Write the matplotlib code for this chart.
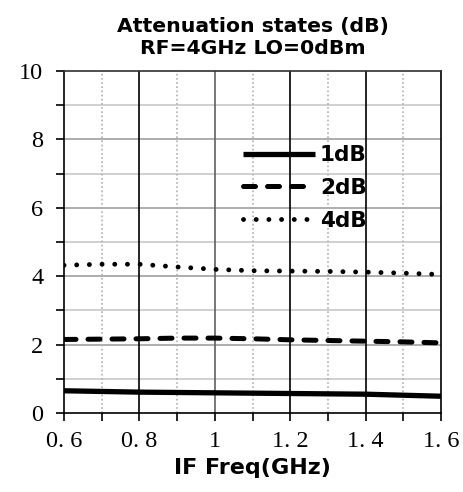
import matplotlib
matplotlib.use("Agg")
import matplotlib.pyplot as plt
from matplotlib.ticker import MultipleLocator, FixedLocator

freq = [0.6, 0.7, 0.8, 0.9, 1.0, 1.1, 1.2, 1.3, 1.4, 1.5, 1.6]
att_1db = [0.65, 0.63, 0.61, 0.60, 0.59, 0.58, 0.57, 0.56, 0.55, 0.52, 0.49]
att_2db = [2.15, 2.16, 2.17, 2.19, 2.19, 2.17, 2.14, 2.12, 2.10, 2.08, 2.05]
att_4db = [4.32, 4.35, 4.35, 4.27, 4.20, 4.16, 4.15, 4.14, 4.12, 4.09, 4.05]
series_labels = ["1dB", "2dB", "4dB"]
xticks = [0.6, 0.8, 1.0, 1.2, 1.4, 1.6]
xtick_labels = ["0. 6", "0. 8", "1", "1. 2", "1. 4", "1. 6"]
yticks = [0, 2, 4, 6, 8, 10]

fig = plt.figure(figsize=(4.64, 4.92), dpi=100)
ax = fig.add_axes([64/464, 1-413/492, (441-64)/464, (413-71)/492])

ax.set_xlim(0.6, 1.6)
ax.set_ylim(0, 10)

# grid
for y in range(1, 10):
    ax.axhline(y, color="#a0a0a0" if y % 2 == 0 else "#c8c8c8", lw=1.2, zorder=0)
for x in [0.8, 1.0, 1.2, 1.4]:
    ax.axvline(x, color="#000000" if x != 1.0 else "#606060", lw=1.2, zorder=0)
for x in [0.7, 0.9, 1.1, 1.3, 1.5]:
    ax.axvline(x, color="#b0b0b0", lw=1.2, ls=(0, (1, 1.5)), zorder=0)

ax.plot(freq, att_1db, color="black", lw=3.8, solid_capstyle="butt", label=series_labels[0])
ax.plot(freq, att_2db, color="black", lw=3.6, ls=(0, (2.4, 2.4)), dash_capstyle="round", label=series_labels[1])
ax.plot(freq, att_4db, color="black", lw=3.5, ls=(0, (0.01, 2.6)), dash_capstyle="round", label=series_labels[2])

for s in ["top", "right", "left", "bottom"]:
    ax.spines[s].set_linewidth(1.2)
ax.spines["top"].set_color("#303030")

ax.xaxis.set_major_locator(FixedLocator(xticks))
ax.xaxis.set_minor_locator(MultipleLocator(0.1))
ax.yaxis.set_major_locator(FixedLocator(yticks))
ax.yaxis.set_minor_locator(MultipleLocator(1))
ax.set_xticklabels(xtick_labels)
ax.tick_params(axis="both", which="both", direction="out", length=6, width=1.2)
ax.tick_params(axis="x", which="both", pad=7)
ax.tick_params(axis="y", which="both", pad=9)
for lab in ax.get_xticklabels() + ax.get_yticklabels():
    lab.set_fontfamily("Liberation Serif")
    lab.set_fontsize(17.5)

ax.set_title("Attenuation states (dB)\nRF=4GHz LO=0dBm", fontsize=14.7, fontweight="bold",
             family="DejaVu Sans", pad=12, linespacing=1.2)
ax.set_xlabel("IF Freq(GHz)", fontsize=16, fontweight="bold", family="DejaVu Sans", labelpad=4)

leg = ax.legend(loc="upper left", bbox_to_anchor=(0.423, 0.84), frameon=False,
                prop={"family": "DejaVu Sans", "weight": "bold", "size": 15.5},
                handlelength=3.35, handletextpad=0.23, labelspacing=0.6)

fig.savefig("out.png", dpi=100)
